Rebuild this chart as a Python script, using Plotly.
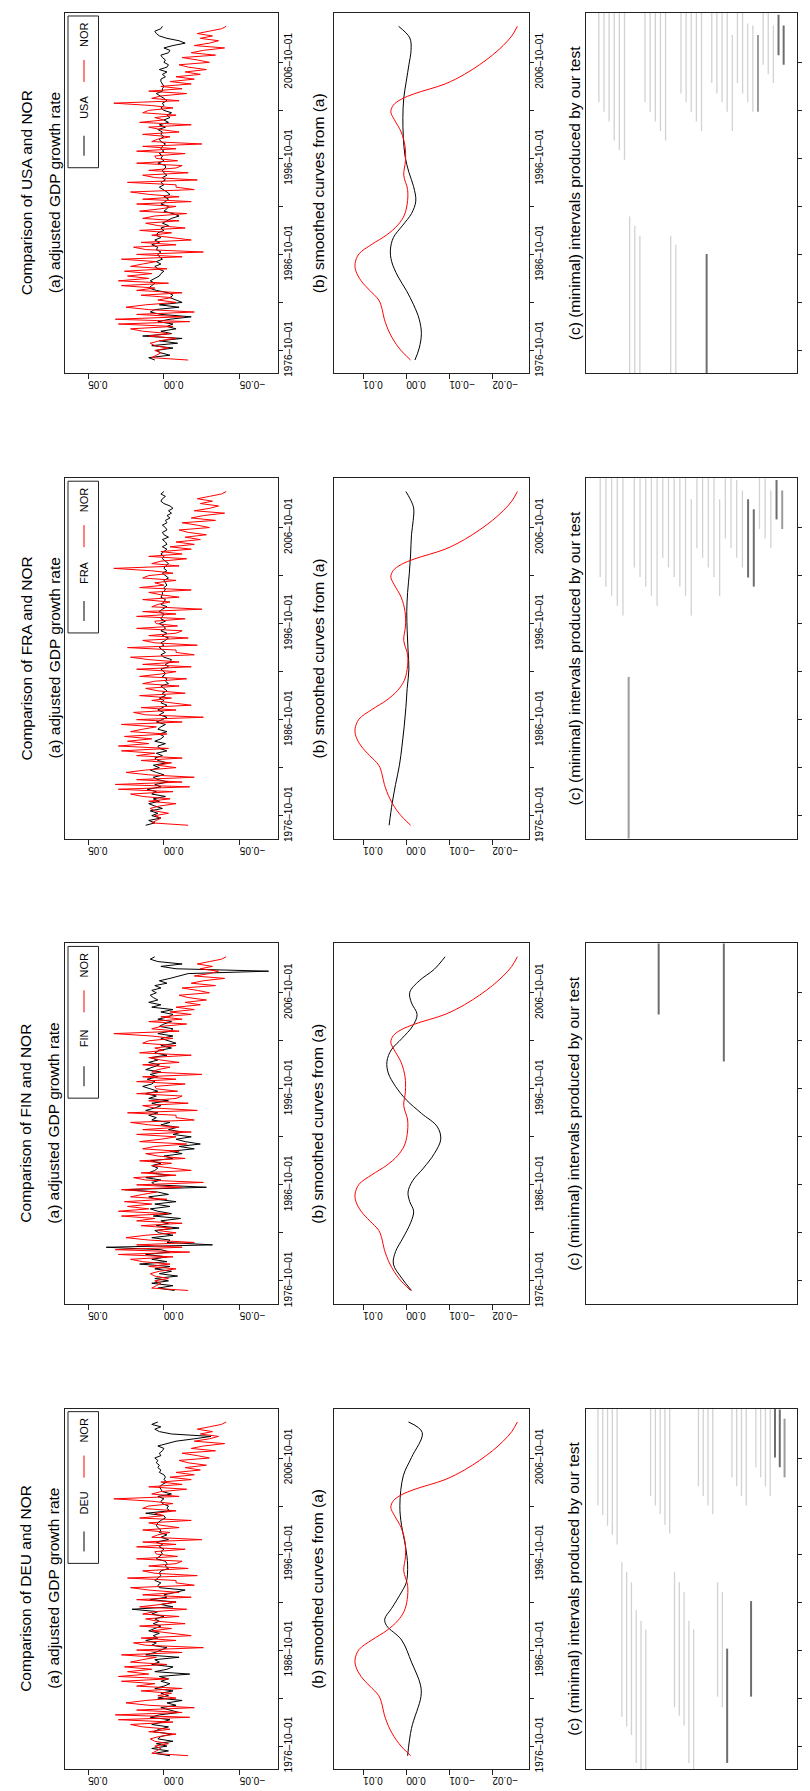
import plotly.graph_objects as go

W, H = 810, 1791
FONT = "Liberation Sans, Arial, Helvetica, sans-serif"

# ---------------- data ----------------
# quarterly observation dates 1975-10-01 ... 2010-07-01 as decimal years
quarter_years = [1975.75 + 0.25 * i for i in range(140)]

nor_growth = [
    -0.016,
    0.008, 0.005, 0.002, 0.006,
    -0.003, 0.006, 0.009, 0.003,
    -0.008, 0.010, -0.004, 0.014,
    0.022, -0.006, 0.030, -0.017,
    0.032, -0.012, 0.018, -0.020,
    0.010, 0.025, 0.012, -0.008,
    0.004, -0.005, 0.015, -0.012,
    0.018, 0.006, 0.028, -0.003,
    0.030, 0.010, 0.024, 0.008,
    0.026, -0.002, 0.022, 0.014,
    0.005, 0.028, -0.012, 0.018,
    -0.026, 0.012, 0.020, -0.008,
    0.015, -0.018, -0.006, 0.008,
    -0.005, 0.016, -0.014, 0.004,
    0.012, -0.010, 0.014, 0.006,
    -0.015, 0.016, 0.002, -0.008,
    0.018, -0.018, 0.014, -0.010,
    0.010, 0.022, -0.020, -0.008,
    -0.008, 0.024, -0.022, 0.006,
    0.014, -0.016, 0.010, -0.008,
    -0.012, 0.018, -0.009, 0.005,
    0.006, -0.014, 0.018, -0.008,
    0.014, -0.025, 0.008, 0.004,
    -0.004, 0.014, -0.010, 0.002,
    0.010, -0.018, 0.016, 0.000,
    0.006, -0.008, 0.014, 0.010,
    -0.006, 0.008, 0.033, -0.010,
    0.008, 0.002, -0.015, 0.010,
    -0.012, 0.002, -0.018, -0.004,
    -0.020, -0.008, -0.024, -0.014,
    -0.028, -0.016, -0.010, -0.030,
    -0.022, -0.012, -0.034, -0.018,
    -0.026, -0.040, -0.020, -0.030,
    -0.036, -0.024, -0.032, -0.022,
    -0.030, -0.038, -0.041,
]

deu_growth = [
    -0.004,
    0.006, -0.003, 0.008, -0.002,
    0.005, -0.006, 0.004, 0.002,
    -0.005, 0.007, 0.003, -0.003,
    0.008, 0.001, -0.004, 0.009,
    0.003, -0.010, -0.004, 0.002,
    -0.008, -0.002, -0.012, 0.004,
    -0.003, 0.002, -0.006, 0.006,
    0.000, -0.004, 0.002, -0.003,
    0.003, -0.017, 0.006, -0.002,
    -0.006, 0.008, 0.003, 0.006,
    -0.010, 0.012, 0.006, 0.002,
    -0.002, 0.008, 0.005, 0.012,
    0.004, 0.007, 0.003, 0.010,
    0.006, 0.002, 0.007, 0.003,
    0.006, 0.000, 0.008, 0.004,
    0.021, -0.006, 0.002, -0.008,
    0.009, -0.002, 0.000, -0.007,
    -0.014, 0.003, 0.004, 0.002,
    0.006, 0.004, 0.002, 0.003,
    0.002, -0.003, -0.001, -0.002,
    -0.001, 0.005, 0.003, 0.001,
    0.002, 0.000, 0.003, 0.001,
    0.005, -0.003, 0.002, -0.002,
    0.003, 0.002, 0.004, 0.005,
    0.004, 0.002, -0.001, 0.000,
    0.012, -0.004, -0.002, -0.003,
    0.001, 0.002, 0.000, 0.004,
    -0.005, 0.001, 0.002, 0.003,
    0.001, -0.002, 0.000, -0.001,
    0.000, 0.003, 0.002, 0.004,
    0.003, 0.005, 0.004, 0.006,
    0.002, 0.003, 0.001, 0.000,
    0.004, -0.003, -0.008, -0.020,
    -0.031, -0.005, 0.003, 0.006,
    0.002, 0.008, 0.004,
]

fin_growth = [
    -0.007,
    0.004, -0.006, 0.008, -0.003,
    0.006, -0.009, 0.003, -0.005,
    0.006, -0.004, 0.016, -0.002,
    0.008, -0.002, 0.012, -0.004,
    0.002, 0.038, -0.032, -0.002,
    -0.004, 0.008, -0.006, 0.003,
    0.006, -0.010, 0.005, -0.003,
    0.002, -0.011, 0.007, -0.005,
    0.004, 0.009, -0.004, 0.006,
    -0.008, 0.005, 0.010, -0.003,
    0.004, 0.026, -0.028, 0.006,
    0.008, 0.002, 0.012, -0.004,
    0.010, 0.006, 0.004, 0.008,
    0.002, 0.009, -0.006, 0.000,
    -0.012, -0.004, -0.020, -0.010,
    -0.024, -0.014, -0.008, -0.018,
    -0.006, -0.012, -0.003, -0.009,
    0.002, -0.004, 0.008, 0.005,
    0.010, 0.004, 0.012, 0.006,
    0.002, 0.008, -0.003, 0.010,
    0.005, 0.012, 0.004, 0.009,
    0.014, 0.008, 0.006, 0.011,
    0.004, 0.009, 0.002, 0.012,
    0.007, 0.003, 0.010, 0.004,
    0.009, -0.002, 0.006, 0.003,
    -0.005, 0.002, -0.008, -0.003,
    0.002, -0.006, 0.004, -0.004,
    -0.006, 0.003, 0.000, -0.005,
    0.004, -0.003, -0.006, 0.002,
    -0.006, 0.008, 0.002, 0.010,
    0.004, 0.007, 0.009, 0.005,
    0.008, 0.002, 0.006, -0.002,
    0.003, -0.004, -0.010, -0.016,
    -0.069, -0.008, 0.002, -0.012,
    0.004, 0.009, 0.006,
]

fra_growth = [
    0.012,
    0.006, 0.010, 0.002, 0.008,
    0.004, 0.009, 0.001, 0.006,
    0.010, 0.003, 0.007, -0.001,
    0.008, 0.005, 0.011, 0.002,
    0.006, -0.003, 0.004, 0.007,
    0.000, 0.005, 0.009, 0.003,
    0.007, -0.002, 0.004, 0.006,
    0.001, 0.005, -0.002, 0.003,
    0.004, -0.001, 0.006, 0.002,
    0.000, 0.003, -0.002, 0.004,
    0.002, -0.001, 0.005, 0.001,
    -0.002, 0.003, 0.000, 0.004,
    0.001, -0.002, 0.002, 0.000,
    0.003, -0.001, 0.001, -0.002,
    0.000, 0.002, -0.003, -0.001,
    -0.002, 0.001, -0.001, 0.000,
    0.002, -0.003, -0.001, -0.004,
    -0.005, 0.000, 0.002, -0.001,
    0.001, 0.003, 0.000, 0.002,
    -0.001, -0.003, 0.001, -0.002,
    0.002, -0.001, 0.000, 0.003,
    -0.001, 0.002, 0.001, 0.000,
    0.003, 0.001, -0.002, 0.002,
    0.000, -0.001, 0.002, 0.001,
    0.001, -0.001, 0.000, -0.002,
    -0.001, 0.000, -0.003, -0.001,
    0.001, -0.002, 0.000, -0.001,
    -0.003, -0.001, 0.001, 0.000,
    0.002, 0.000, -0.002, 0.001,
    -0.002, -0.001, 0.001, -0.003,
    0.000, 0.001, -0.002, -0.001,
    0.001, -0.002, -0.001, -0.004,
    -0.002, -0.005, -0.003, -0.006,
    -0.004, 0.000, 0.002, 0.001,
    -0.001, 0.002, 0.000,
]

usa_growth = [
    0.006,
    0.010, -0.004, 0.002, 0.005,
    -0.006, 0.008, -0.009, 0.003,
    -0.012, 0.014, -0.005, 0.002,
    -0.008, -0.002, -0.006, 0.004,
    -0.004, -0.018, 0.002, 0.009,
    0.006, -0.010, 0.003, -0.012,
    -0.008, -0.004, -0.006, -0.003,
    0.005, 0.010, 0.008, 0.006,
    0.009, 0.006, 0.003, 0.002,
    0.000, 0.004, 0.006, 0.002,
    0.005, 0.001, 0.003, 0.004,
    0.002, 0.005, 0.004, 0.008,
    0.003, 0.006, 0.002, 0.005,
    0.004, 0.000, 0.002, -0.003,
    0.001, -0.002, -0.005, -0.010,
    -0.006, 0.000, -0.002, -0.003,
    0.002, -0.001, -0.003, 0.000,
    -0.004, -0.002, 0.001, 0.003,
    0.000, 0.002, -0.001, 0.001,
    -0.002, 0.000, 0.001, -0.001,
    -0.001, 0.004, 0.000, 0.002,
    0.001, 0.003, 0.000, 0.002,
    0.001, -0.001, 0.002, 0.003,
    0.000, 0.002, 0.001, 0.004,
    -0.001, 0.003, -0.003, 0.000,
    -0.004, -0.002, -0.005, 0.000,
    0.002, 0.000, 0.001, -0.002,
    0.000, 0.003, 0.005, 0.001,
    0.001, 0.000, 0.001, 0.002,
    0.002, -0.001, 0.001, -0.002,
    0.003, -0.002, -0.003, 0.000,
    -0.001, 0.001, 0.002, -0.003,
    -0.004, 0.000, -0.006, -0.014,
    -0.010, -0.002, 0.003, 0.005,
    0.006, 0.002, 0.001,
]

# smoothed curves (panel b): knot years and values
nor_smooth_years = [1975.75, 1977.0, 1978.5, 1980.0, 1981.0, 1982.0, 1983.0, 1984.0, 1985.0, 1985.8,
                    1986.8, 1987.8, 1988.8, 1989.8, 1990.8, 1992.0, 1993.5, 1995.0, 1996.5, 1998.0,
                    1999.5, 2000.8, 2001.6, 2002.3, 2002.9, 2003.5, 2004.5, 2005.5, 2006.5, 2007.5,
                    2008.5, 2009.5, 2010.5]
nor_smooth_vals = [-0.0010, 0.0017, 0.0038, 0.0051, 0.0056, 0.0064, 0.0085, 0.0105, 0.0117, 0.0119,
                   0.0110, 0.0080, 0.0045, 0.0020, 0.0005, -0.0002, -0.0003, 0.0006, 0.0002, 0.0003,
                   0.0012, 0.0028, 0.0036, 0.0030, 0.0012, -0.0020, -0.0090, -0.0135, -0.0170, -0.0200,
                   -0.0225, -0.0245, -0.0258]

deu_smooth_years = [1975.75, 1978.6, 1981.9, 1983.1, 1985.5, 1987.8, 1989.3, 1990.0, 1991.1, 1992.8,
                    1993.8, 1995.6, 1997.6, 1999.7, 2001.8, 2004.9, 2006.8, 2009.4, 2010.5]
deu_smooth_vals = [-0.0003, -0.0012, -0.0034, -0.0033, -0.0012, 0.0011, 0.0046, 0.0050, 0.0034, 0.0011,
                   0.0000, -0.0003, 0.0002, 0.0011, 0.0015, 0.0007, -0.0012, -0.0037, -0.0005]

fin_smooth_years = [1975.75, 1977.0, 1978.5, 1979.8, 1981.2, 1982.8, 1984.0, 1985.0, 1986.0, 1987.2,
                    1988.5, 1990.0, 1991.5, 1992.8, 1994.2, 1995.6, 1997.0, 1998.4, 1999.6, 2000.8,
                    2002.0, 2003.3, 2004.5, 2005.7, 2006.8, 2008.0, 2009.2, 2010.5]
fin_smooth_vals = [-0.0012, 0.0010, 0.0030, 0.0025, 0.0008, -0.0010, -0.0017, -0.0008, -0.0004, -0.0015,
                   -0.0040, -0.0065, -0.0080, -0.0072, -0.0035, 0.0000, 0.0025, 0.0042, 0.0045, 0.0035,
                   0.0010, -0.0015, -0.0025, -0.0012, -0.0008, -0.0030, -0.0065, -0.0090]

fra_smooth_years = [1975.75, 1978.0, 1980.0, 1982.0, 1984.0, 1986.0, 1988.0, 1990.0, 1992.0, 1994.0,
                    1996.0, 1998.0, 2000.0, 2002.0, 2004.0, 2006.0, 2007.5, 2008.8, 2009.8, 2010.5]
fra_smooth_vals = [0.0040, 0.0033, 0.0025, 0.0016, 0.0010, 0.0005, 0.0001, -0.0002, -0.0006, -0.0004,
                   -0.0002, -0.0001, -0.0003, -0.0007, -0.0010, -0.0012, -0.0016, -0.0017, -0.0008, 0.0001]

usa_smooth_years = [1975.75, 1977.0, 1978.5, 1980.0, 1981.5, 1983.0, 1984.5, 1986.0, 1987.2, 1988.5,
                    1989.8, 1991.0, 1992.3, 1993.8, 1995.3, 1997.0, 1999.0, 2001.0, 2003.0, 2004.8,
                    2006.5, 2008.0, 2009.3, 2010.5]
usa_smooth_vals = [-0.0020, -0.0030, -0.0035, -0.0030, -0.0017, 0.0000, 0.0020, 0.0034, 0.0037, 0.0030,
                   0.0008, -0.0012, -0.0022, -0.0017, -0.0006, 0.0003, 0.0007, 0.0008, 0.0006, 0.0000,
                   -0.0006, -0.0011, -0.0008, 0.0018]

# minimal intervals (panel c): level, start year, end year, shade (L light, M medium, D dark)
OPEN_END, OPEN_START = 2012.5, 1973.5
deu_iv_level = list(range(40))
deu_iv_start = [2001.8, 2000.8, 1999.7, 1998.75, 1997.75, 1979.8, 1978.8, 1977.9, 1975.0, OPEN_START,
                OPEN_START, 2002.8, 2001.8, 2000.9, 1999.8, 1998.9, 1980.8, 1979.9, 1978.9, 1975.0,
                OPEN_START, 2003.8, 2002.8, 2001.8, 2000.9, 1981.9, 1980.8, 1975.0, 2004.75, 2003.8,
                2002.8, 2001.8, 1981.9, 2005.8, 2004.75, 2003.8, 2002.8, 2006.8, 2005.8, 2004.75]
deu_iv_end = [OPEN_END, OPEN_END, OPEN_END, OPEN_END, OPEN_END, 1995.9, 1994.9, 1993.8, 1990.9, 1989.8,
              1988.9, OPEN_END, OPEN_END, OPEN_END, OPEN_END, OPEN_END, 1994.9, 1993.8, 1992.8, 1989.8,
              1988.9, OPEN_END, OPEN_END, OPEN_END, OPEN_END, 1993.8, 1992.8, 1986.9, OPEN_END, OPEN_END,
              OPEN_END, OPEN_END, 1991.85, OPEN_END, OPEN_END, OPEN_END, OPEN_END, OPEN_END, 2011.8, 2010.85]
deu_iv_shade = ["L"] * 27 + ["D"] + ["L"] * 4 + ["D"] + ["L"] * 4 + ["D", "D", "M"]

fin_iv_level = [12, 25]
fin_iv_start = [2004.5, 1999.6]
fin_iv_end = [OPEN_END, OPEN_END]
fin_iv_shade = ["D", "D"]

fra_iv_level = list(range(33))
fra_iv_start = [2001.6, 2000.6, 1999.65, 1998.6, 1997.6, OPEN_START, 2002.6, 2001.6, 2000.6, 1999.65,
                1998.6, 2003.6, 2002.6, 2001.6, 2000.6, 1999.65, 1997.6, 2004.6, 2003.6, 2002.6,
                2001.6, 1999.65, 2005.6, 2004.6, 2003.6, 2002.6, 2001.55, 2000.6, 2006.6, 2005.6,
                2004.6, 2007.6, 2006.6]
fra_iv_end = [OPEN_END] * 5 + [1991.2] + [OPEN_END] * 10 + [2009.7] + [OPEN_END] * 4 + [2009.7] + \
             [OPEN_END, OPEN_END, 2011.7, 2010.6, 2009.7, 2008.65, OPEN_END, OPEN_END, 2010.6, 2011.7, 2010.6]
fra_iv_shade = ["L"] * 5 + ["M"] + ["L"] * 20 + ["D", "D", "L", "L", "L", "D", "M"]

usa_iv_level = list(range(37))
usa_iv_start = [2002.6, 2001.6, 2000.6, 1998.6, 1997.6, 1996.6, OPEN_START, OPEN_START, OPEN_START, 2002.6,
                2001.6, 2000.6, 1999.6, 1998.6, OPEN_START, OPEN_START, 2003.5, 2002.6, 2001.6, 2000.6,
                1999.6, OPEN_START, 2004.6, 2003.5, 2002.6, 2001.6, 1999.6, 2004.6, 2003.5, 2002.6,
                2001.6, 2001.6, 2006.5, 2005.5, 2004.6, 2007.5, 2006.5]
usa_iv_end = [OPEN_END] * 6 + [1990.7, 1989.7, 1988.7] + [OPEN_END] * 5 + [1988.7, 1987.75] + \
             [OPEN_END] * 5 + [1986.8] + [OPEN_END] * 4 + [2009.6, OPEN_END, OPEN_END, 2010.8, 2010.6, 2009.6,
                                                       OPEN_END, OPEN_END, 2010.6, 2011.7, 2010.6]
usa_iv_shade = ["L"] * 21 + ["D"] + ["L"] * 9 + ["M", "L", "L", "L", "D", "D"]

# tick labels
time_tick_years = [1976.75, 1981.75, 1986.75, 1991.75, 1996.75, 2001.75, 2006.75]
time_tick_text = ["1976\u201310\u201301", "", "1986\u201310\u201301", "", "1996\u201310\u201301", "",
                  "2006\u201310\u201301"]
growth_tick_vals = [0.05, 0.0, -0.05]
growth_tick_text = ["0.05", "0.00", "\u22120.05"]
smooth_tick_vals = [0.01, 0.0, -0.01, -0.02]
smooth_tick_text = ["0.01", "0.00", "\u22120.01", "\u22120.02"]

countries = ["USA", "FRA", "FIN", "DEU"]
growth = {"USA": usa_growth, "FRA": fra_growth, "FIN": fin_growth, "DEU": deu_growth}
smooth = {"USA": (usa_smooth_years, usa_smooth_vals), "FRA": (fra_smooth_years, fra_smooth_vals),
          "FIN": (fin_smooth_years, fin_smooth_vals), "DEU": (deu_smooth_years, deu_smooth_vals)}
intervals = {
    "USA": (usa_iv_level, usa_iv_start, usa_iv_end, usa_iv_shade, 37),
    "FRA": (fra_iv_level, fra_iv_start, fra_iv_end, fra_iv_shade, 33),
    "FIN": (fin_iv_level, fin_iv_start, fin_iv_end, fin_iv_shade, 38),
    "DEU": (deu_iv_level, deu_iv_start, deu_iv_end, deu_iv_shade, 40),
}

# ---------------- layout geometry (pixels) ----------------
panel_top = {"USA": 5, "FRA": 471, "FIN": 937, "DEU": 1403}
PH = 361
row_x = {"a": (57, 270), "b": (326, 521), "c": (578, 789)}
title_x = {"b": 310, "c": 566}
time_range = [1974.36, 2011.89]
growth_range = [0.0652, -0.0752]
smooth_range = [0.0168, -0.0285]

shade_style = {"L": ("#d2d2d2", 1.3), "M": ("#9c9c9c", 2.0), "D": ("#6e6e6e", 2.0)}

fig = go.Figure()
layout = {}
annotations = []
shapes = []

tickfont = dict(family=FONT, size=10, color="black")


def px_x(p):
    return p / W


def px_y(p):
    return 1 - p / H


k = 0
for c in countries:
    top = panel_top[c]
    bot = top + PH
    for r in ["a", "b", "c"]:
        k += 1
        xn = "xaxis" if k == 1 else f"xaxis{k}"
        yn = "yaxis" if k == 1 else f"yaxis{k}"
        xr = "x" if k == 1 else f"x{k}"
        yr = "y" if k == 1 else f"y{k}"
        x0, x1 = row_x[r]
        xa = dict(domain=[px_x(x0), px_x(x1)], anchor=yr, showgrid=False, zeroline=False,
                  showline=True, mirror=True, linecolor="#222", linewidth=1, fixedrange=True)
        ya = dict(domain=[px_y(bot), px_y(top)], anchor=xr, side="right", range=time_range,
                  showgrid=False, zeroline=False, showline=True, mirror=True, linecolor="#222",
                  linewidth=1, tickmode="array", tickvals=time_tick_years, ticktext=time_tick_text,
                  ticks="outside", ticklen=4, tickwidth=1, tickcolor="#222", tickangle=-90,
                  ticklabelstandoff=-3, tickfont=tickfont, fixedrange=True)
        if r == "a":
            xa.update(range=growth_range, tickmode="array", tickvals=growth_tick_vals,
                      ticktext=growth_tick_text, ticks="outside", ticklen=5, tickwidth=1,
                      tickcolor="#222", tickangle=180, tickfont=tickfont)
            fig.add_trace(go.Scatter(x=growth[c], y=quarter_years, mode="lines",
                                     line=dict(color="black", width=1), xaxis=xr, yaxis=yr))
            fig.add_trace(go.Scatter(x=nor_growth, y=quarter_years, mode="lines",
                                     line=dict(color="#ff0000", width=1), xaxis=xr, yaxis=yr))
            # titles
            cy = px_y(top + PH / 2)
            annotations.append(dict(text=f"Comparison of {c} and NOR", x=px_x(18), y=cy, xref="paper",
                                    yref="paper", showarrow=False, textangle=-90, xanchor="center",
                                    yanchor="middle", font=dict(family=FONT, size=15.5, color="black")))
            annotations.append(dict(text="(a) adjusted GDP growth rate", x=px_x(46), y=cy, xref="paper",
                                    yref="paper", showarrow=False, textangle=-90, xanchor="center",
                                    yanchor="middle", font=dict(family=FONT, size=15.5, color="black")))
            # legend box
            shapes.append(dict(type="rect", xref="paper", yref="paper", x0=px_x(60), x1=px_x(90.5),
                               y0=px_y(top + 155), y1=px_y(top + 3), line=dict(color="#222", width=1),
                               fillcolor="white"))
            shapes.append(dict(type="line", xref="paper", yref="paper", x0=px_x(76), x1=px_x(76),
                               y0=px_y(top + 143), y1=px_y(top + 123), line=dict(color="black", width=1)))
            shapes.append(dict(type="line", xref="paper", yref="paper", x0=px_x(76), x1=px_x(76),
                               y0=px_y(top + 69), y1=px_y(top + 47), line=dict(color="#ff0000", width=1)))
            annotations.append(dict(text=c, x=px_x(76), y=px_y(top + 95), xref="paper", yref="paper",
                                    showarrow=False, textangle=-90, xanchor="center", yanchor="middle",
                                    font=dict(family=FONT, size=11, color="black")))
            annotations.append(dict(text="NOR", x=px_x(76), y=px_y(top + 22), xref="paper", yref="paper",
                                    showarrow=False, textangle=-90, xanchor="center", yanchor="middle",
                                    font=dict(family=FONT, size=11, color="black")))
        elif r == "b":
            xa.update(range=smooth_range, tickmode="array", tickvals=smooth_tick_vals,
                      ticktext=smooth_tick_text, ticks="outside", ticklen=5, tickwidth=1,
                      tickcolor="#222", tickangle=180, tickfont=tickfont)
            sy, sv = smooth[c]
            fig.add_trace(go.Scatter(x=sv, y=sy, mode="lines", line=dict(color="black", width=1,
                                     shape="spline", smoothing=1.0), xaxis=xr, yaxis=yr))
            fig.add_trace(go.Scatter(x=nor_smooth_vals, y=nor_smooth_years, mode="lines",
                                     line=dict(color="#ff0000", width=1, shape="spline", smoothing=1.0),
                                     xaxis=xr, yaxis=yr))
            annotations.append(dict(text="(b) smoothed curves from (a)", x=px_x(title_x["b"]),
                                    y=px_y(top + PH / 2), xref="paper", yref="paper", showarrow=False,
                                    textangle=-90, xanchor="center", yanchor="middle",
                                    font=dict(family=FONT, size=15.5, color="black")))
        else:
            lv, st, en, sh, n = intervals[c]
            xa.update(range=[-2.5, n - 1 + 2.6], showticklabels=False, ticks="")
            for shade in ["L", "M", "D"]:
                xs, ys = [], []
                for l, s, e, h in zip(lv, st, en, sh):
                    if h == shade:
                        xs += [l, l, None]
                        ys += [s, e, None]
                if xs:
                    col, wd = shade_style[shade]
                    fig.add_trace(go.Scatter(x=xs, y=ys, mode="lines", line=dict(color=col, width=wd),
                                             xaxis=xr, yaxis=yr))
            annotations.append(dict(text="(c) (minimal) intervals produced by our test",
                                    x=px_x(title_x["c"]), y=px_y(top + PH / 2), xref="paper",
                                    yref="paper", showarrow=False, textangle=-90, xanchor="center",
                                    yanchor="middle", font=dict(family=FONT, size=15.5, color="black")))
        layout[xn] = xa
        layout[yn] = ya

fig.update_layout(**layout)
fig.update_layout(width=W, height=H, margin=dict(l=0, r=0, t=0, b=0), showlegend=False,
                  paper_bgcolor="white", plot_bgcolor="white", annotations=annotations, shapes=shapes,
                  font=dict(family=FONT, color="black"))
fig.update_traces(hoverinfo="skip")
fig.write_html("out.html")
